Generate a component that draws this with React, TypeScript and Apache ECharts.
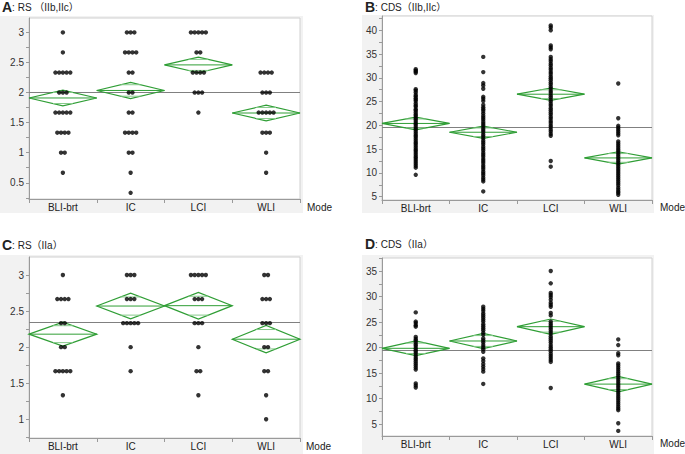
import React, { useEffect, useRef } from 'react';
import * as echarts from 'echarts';

const MODES = ['BLI-brt', 'IC', 'LCI', 'WLI'];

// Panel A: RS (IIb,IIc)
const A_BLI = [3, 2.667, 2.333, 2.333, 2.333, 2.333, 2.333, 2, 2, 2, 1.667, 1.667, 1.667, 1.667, 1.667, 1.333, 1.333, 1.333, 1.333, 1, 1, 0.667];
const A_IC = [3, 3, 3, 2.667, 2.667, 2.667, 2.667, 2.333, 2.333, 2, 2, 1.667, 1.667, 1.333, 1.333, 1.333, 1.333, 1, 1, 0.667, 0.333];
const A_LCI = [3, 3, 3, 3, 3, 2.667, 2.667, 2.333, 2.333, 2.333, 2.333, 2, 2, 2, 1.667];
const A_WLI = [2.333, 2.333, 2.333, 2.333, 2, 2, 2, 1.667, 1.667, 1.667, 1.667, 1.667, 1.333, 1.333, 1.333, 1, 0.667];
const A_MEAN = [1.91, 2.035, 2.46, 1.66];
const A_CI = [0.13, 0.135, 0.13, 0.13];
const A_GRAND = 2.01;

// Panel B: CDS (IIb,IIc)
const B_BLI = [31.8, 31.5, 31.3, 31.0, 27.6, 27.3, 26.9, 26.4, 26.1, 25.7, 25.4, 25.1, 24.6, 24.2, 23.9, 23.4, 23.1, 22.7, 22.3, 22.0, 21.6, 21.3, 20.9, 20.5, 20.2, 19.8, 19.4, 19.1, 18.7, 18.3, 17.9, 17.6, 17.2, 16.8, 16.4, 16.1, 15.7, 15.3, 14.9, 14.6, 14.2, 13.8, 13.4, 13.1, 12.7, 12.3, 11.9, 11.5, 11.1, 9.6];
const B_IC = [34.4, 31.2, 28.9, 28.4, 27.7, 26.0, 25.6, 25.1, 24.3, 23.8, 23.4, 23.0, 22.5, 22.0, 21.6, 21.2, 20.7, 20.3, 19.9, 19.4, 19.0, 18.6, 18.1, 17.7, 17.3, 16.8, 16.4, 16.0, 15.5, 15.1, 14.7, 14.2, 13.8, 13.4, 12.9, 12.5, 12.1, 11.6, 11.2, 10.8, 10.3, 9.9, 9.5, 9.0, 8.6, 8.2, 6.1];
const B_LCI = [41.0, 40.6, 40.0, 36.8, 36.4, 36.0, 34.4, 33.9, 33.5, 33.0, 32.6, 32.1, 31.7, 31.2, 30.8, 30.3, 29.9, 29.5, 29.0, 28.6, 28.1, 27.7, 27.2, 26.8, 26.3, 25.9, 25.4, 25.0, 24.5, 24.1, 23.6, 23.2, 22.7, 22.3, 21.8, 21.4, 20.9, 20.5, 20.0, 19.6, 19.1, 18.7, 18.2, 17.8, 12.5, 11.3];
const B_WLI = [28.8, 21.5, 19.9, 19.5, 19.1, 18.7, 18.3, 17.9, 16.6, 16.2, 15.8, 15.4, 15.0, 14.6, 14.2, 13.8, 13.4, 13.0, 12.6, 12.2, 11.8, 11.4, 11.0, 10.6, 10.2, 9.8, 9.4, 9.0, 8.6, 8.2, 7.8, 7.4, 6.9, 6.5, 6.1, 5.8, 5.4];
const B_MEAN = [20.4, 18.55, 26.55, 13.15];
const B_CI = [1.33, 1.27, 1.3, 1.3];
const B_GRAND = 19.66;

// Panel C: RS (IIa)
const C_BLI = [3, 2.667, 2.667, 2.667, 2.667, 2.333, 2.333, 2, 2, 1.667, 1.667, 1.667, 1.667, 1.667, 1.333];
const C_IC = [3, 3, 3, 2.667, 2.667, 2.667, 2.333, 2.333, 2.333, 2.333, 2.333, 2, 1.667];
const C_LCI = [3, 3, 3, 3, 3, 2.667, 2.667, 2.667, 2.333, 2.333, 2.333, 2, 1.667, 1.667, 1.333];
const C_WLI = [3, 3, 2.667, 2.667, 2.667, 2.333, 2.333, 2.333, 2, 2, 1.667, 1.667, 1.333, 1];
const C_MEAN = [2.18, 2.57, 2.575, 2.11];
const C_CI = [0.166, 0.178, 0.185, 0.19];
const C_GRAND = 2.35;

// Panel D: CDS (IIa)
const D_BLI = [26.9, 25.1, 24.8, 24.4, 24.1, 22.1, 21.7, 21.4, 21.0, 20.6, 20.3, 19.9, 19.5, 19.2, 18.8, 18.4, 18.0, 17.7, 17.3, 16.9, 16.5, 16.1, 15.7, 13.0, 12.6, 12.2];
const D_IC = [28.0, 27.6, 27.2, 26.7, 26.3, 25.9, 25.5, 25.1, 24.6, 24.2, 23.8, 23.4, 22.9, 22.5, 21.8, 21.4, 21.0, 20.5, 20.1, 19.7, 19.2, 17.9, 17.4, 16.8, 16.3, 15.8, 15.3, 12.9];
const D_LCI = [35.0, 32.6, 30.7, 30.3, 29.9, 29.4, 28.8, 28.4, 28.0, 26.8, 26.3, 25.1, 24.7, 24.3, 23.9, 23.5, 23.1, 22.7, 22.2, 21.8, 21.4, 21.0, 20.5, 20.1, 19.7, 19.3, 18.8, 18.4, 18.0, 17.6, 17.2, 12.1];
const D_WLI = [21.6, 20.5, 18.9, 18.5, 16.9, 16.5, 16.1, 15.7, 15.3, 14.9, 14.5, 14.1, 13.7, 13.3, 12.9, 12.5, 12.1, 11.7, 11.3, 10.9, 10.5, 10.1, 9.7, 9.3, 8.9, 8.5, 8.1, 7.75, 5.2, 3.7];
const D_MEAN = [19.87, 21.3, 24.1, 12.86];
const D_CI = [1.45, 1.5, 1.5, 1.5];
const D_GRAND = 19.48;

const RS_LABELS = [0.5, 1, 1.5, 2, 2.5, 3];
const RS_TICKS = [0.25, 0.5, 0.75, 1, 1.25, 1.5, 1.75, 2, 2.25, 2.5, 2.75, 3];
const CDS_LABELS = [5, 10, 15, 20, 25, 30, 35, 40];
const CDS_TICKS = [5, 7.5, 10, 12.5, 15, 17.5, 20, 22.5, 25, 27.5, 30, 32.5, 35, 37.5, 40, 42.5];

const GREEN = '#2f9e35';
const GREEN_LIGHT = '#86c98a';
const FONT = '"Liberation Sans", Arial, "Noto Sans CJK JP", sans-serif';

function jitter(vals: number[], idx: number, step: number): number[][] {
  const counts = new Map<number, number>();
  vals.forEach((v) => counts.set(v, (counts.get(v) || 0) + 1));
  const seen = new Map<number, number>();
  return vals.map((v) => {
    const n = counts.get(v) || 1;
    const k = seen.get(v) || 0;
    seen.set(v, k + 1);
    return [idx + (k - (n - 1) / 2) * step, v];
  });
}

type Panel = {
  groups: number[][];
  mean: number[];
  ci: number[];
  grand: number;
  min: number;
  max: number;
  labels: number[];
  ticks: number[];
  grid: { left: number; top: number; width: number; height: number };
};

const PANELS: Panel[] = [
  { groups: [A_BLI, A_IC, A_LCI, A_WLI], mean: A_MEAN, ci: A_CI, grand: A_GRAND, min: 0.23, max: 3.24, labels: RS_LABELS, ticks: RS_TICKS, grid: { left: 29, top: 18, width: 271, height: 181 } },
  { groups: [B_BLI, B_IC, B_LCI, B_WLI], mean: B_MEAN, ci: B_CI, grand: B_GRAND, min: 4.3, max: 43.0, labels: CDS_LABELS, ticks: CDS_TICKS, grid: { left: 382, top: 16, width: 270, height: 184 } },
  { groups: [C_BLI, C_IC, C_LCI, C_WLI], mean: C_MEAN, ci: C_CI, grand: C_GRAND, min: 0.74, max: 3.25, labels: RS_LABELS, ticks: RS_TICKS, grid: { left: 29, top: 257, width: 271, height: 181 } },
  { groups: [D_BLI, D_IC, D_LCI, D_WLI], mean: D_MEAN, ci: D_CI, grand: D_GRAND, min: 2.7, max: 37.55, labels: CDS_LABELS, ticks: CDS_TICKS, grid: { left: 382, top: 258, width: 270, height: 178 } },
];

const TITLES = [
  { letter: 'A', text: ': RS （IIb,IIc）', x: 2, y: 7 },
  { letter: 'B', text: ': CDS（IIb,IIc）', x: 365, y: 7 },
  { letter: 'C', text: ': RS（IIa）', x: 2, y: 245 },
  { letter: 'D', text: ': CDS（IIa）', x: 365, y: 244 },
];

const MODE_POS = [
  { x: 307, y: 207 },
  { x: 660, y: 207 },
  { x: 306, y: 446 },
  { x: 660, y: 443 },
];

const GRAY_PANELS = [
  { left: 0, top: 16, width: 303, height: 197 },
  { left: 362, top: 15, width: 292, height: 198 },
  { left: 0, top: 255, width: 303, height: 199 },
  { left: 362, top: 255, width: 292, height: 199 },
];

export default function App() {
  const ref = useRef<HTMLDivElement>(null);
  useEffect(() => {
    if (!ref.current) return;
    const chart = echarts.init(ref.current, null, { renderer: 'svg' });
    const grid: any[] = [];
    const xAxis: any[] = [];
    const yAxis: any[] = [];
    const series: any[] = [];
    PANELS.forEach((p, pi) => {
      grid.push({
        ...p.grid,
        show: true,
        backgroundColor: '#ffffff',
        borderColor: '#d0d0d0',
        borderWidth: 1,
        containLabel: false,
        outerBoundsMode: 'none',
      });
      xAxis.push({
        type: 'category',
        gridIndex: pi,
        data: MODES,
        boundaryGap: true,
        axisLine: { show: true, onZero: false, lineStyle: { color: '#9a9a9a', width: 1 } },
        axisTick: { show: true, length: 4, inside: false, alignWithLabel: false, lineStyle: { color: '#9a9a9a' } },
        axisLabel: { color: '#222', fontSize: 10, fontFamily: FONT, margin: 3 },
        splitLine: { show: false },
      });
      xAxis.push({
        type: 'value',
        gridIndex: pi,
        min: -0.5,
        max: 3.5,
        show: false,
        axisLine: { onZero: false },
        splitLine: { show: false },
      });
      yAxis.push({
        type: 'value',
        gridIndex: pi,
        min: p.min,
        max: p.max,
        axisLine: { show: true, onZero: false, lineStyle: { color: '#9a9a9a', width: 1 } },
        axisTick: { show: true, length: 3, lineStyle: { color: '#9a9a9a' }, customValues: p.ticks },
        axisLabel: { color: '#333', fontSize: 10, fontFamily: FONT, margin: 5, customValues: p.labels, formatter: (v: number) => String(v) },
        splitLine: { show: false },
      });
      const pts: number[][] = [];
      p.groups.forEach((g, gi) => pts.push(...jitter(g, gi, 0.055)));
      series.push({
        type: 'scatter',
        xAxisIndex: pi * 2 + 1,
        yAxisIndex: pi,
        data: pts,
        symbol: 'circle',
        symbolSize: 4.4,
        itemStyle: { color: '#000' },
        z: 5,
        markLine: {
          silent: true,
          symbol: 'none',
          label: { show: false },
          lineStyle: { color: '#808080', width: 1, type: 'solid' },
          data: [{ yAxis: p.grand }],
          z: 1,
        },
      });
      series.push({
        type: 'custom',
        xAxisIndex: pi * 2 + 1,
        yAxisIndex: pi,
        z: 3,
        encode: { x: 0, y: 1 },
        data: p.mean.map((m, i) => [i, m, p.ci[i]]),
        renderItem: (params: any, api: any) => {
          const i = api.value(0);
          const m = api.value(1);
          const h = api.value(2);
          const L = api.coord([i - 0.5, m]);
          const R = api.coord([i + 0.5, m]);
          const T = api.coord([i, m + h]);
          const B = api.coord([i, m - h]);
          const o = h * Math.SQRT1_2;
          const yo1 = api.coord([i, m + o])[1];
          const yo2 = api.coord([i, m - o])[1];
          const hw = ((R[0] - L[0]) / 2) * (1 - Math.SQRT1_2);
          const cx = T[0];
          return {
            type: 'group',
            children: [
              { type: 'polygon', shape: { points: [L, T, R, B] }, style: { fill: 'none', stroke: GREEN, lineWidth: 1.2 } },
              { type: 'line', shape: { x1: L[0], y1: L[1], x2: R[0], y2: R[1] }, style: { stroke: GREEN, lineWidth: 1 } },
              { type: 'line', shape: { x1: cx - hw, y1: yo1, x2: cx + hw, y2: yo1 }, style: { stroke: GREEN_LIGHT, lineWidth: 1 } },
              { type: 'line', shape: { x1: cx - hw, y1: yo2, x2: cx + hw, y2: yo2 }, style: { stroke: GREEN_LIGHT, lineWidth: 1 } },
            ],
          };
        },
      });
    });
    const graphic: any[] = [];
    TITLES.forEach((t) => {
      graphic.push({
        type: 'text',
        x: t.x,
        y: t.y,
        style: {
          text: `{a|${t.letter}}{b|${t.text}}`,
          verticalAlign: 'middle',
          rich: {
            a: { fontSize: 14, fontWeight: 'bold', fontFamily: FONT, fill: '#222' },
            b: { fontSize: 10, fontFamily: FONT, fill: '#222' },
          },
        },
      });
    });
    MODE_POS.forEach((m) => {
      graphic.push({
        type: 'text',
        x: m.x,
        y: m.y,
        style: { text: 'Mode', fontSize: 10, fontFamily: FONT, fill: '#222', verticalAlign: 'middle' },
      });
    });
    chart.setOption({
      animation: false,
      grid,
      xAxis,
      yAxis,
      series,
      graphic,
    });
    return () => chart.dispose();
  }, []);
  return (
    <div style={{ position: 'absolute', left: 0, top: 0, width: 685, height: 454, background: '#fff' }}>
      {GRAY_PANELS.map((g, i) => (
        <div key={i} style={{ position: 'absolute', ...g, background: '#f2f2f2' }} />
      ))}
      <div ref={ref} style={{ position: 'absolute', left: 0, top: 0, width: 685, height: 454 }} />
    </div>
  );
}
